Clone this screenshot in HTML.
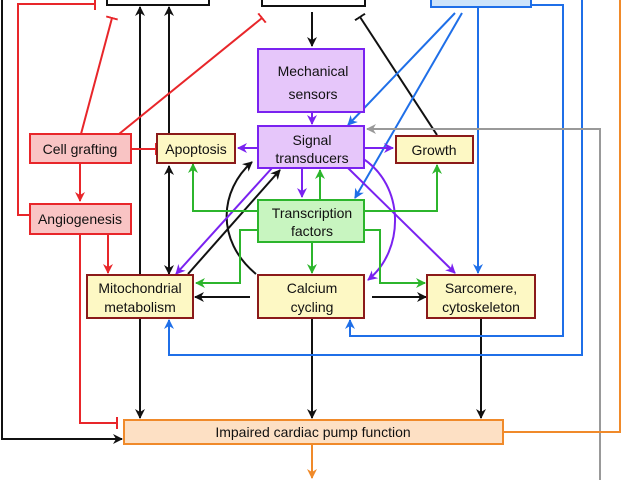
<!DOCTYPE html>
<html><head><meta charset="utf-8"><style>
html,body{margin:0;padding:0;background:#fff;}
svg{display:block;font-family:"Liberation Sans",sans-serif;}
</style></head><body>
<svg width="640" height="480" viewBox="0 0 640 480" xmlns="http://www.w3.org/2000/svg">
<defs>
<marker id="ak" markerWidth="10" markerHeight="10" refX="9" refY="5" orient="auto" markerUnits="userSpaceOnUse"><path d="M0,0 L10,5 L0,10 L3,5z" fill="#111"/></marker>
<marker id="ar" markerWidth="10" markerHeight="10" refX="9" refY="5" orient="auto" markerUnits="userSpaceOnUse"><path d="M0,0 L10,5 L0,10 L3,5z" fill="#e8262a"/></marker>
<marker id="ab" markerWidth="10" markerHeight="10" refX="9" refY="5" orient="auto" markerUnits="userSpaceOnUse"><path d="M0,0 L10,5 L0,10 L3,5z" fill="#1f6fe8"/></marker>
<marker id="ap" markerWidth="10" markerHeight="10" refX="9" refY="5" orient="auto" markerUnits="userSpaceOnUse"><path d="M0,0 L10,5 L0,10 L3,5z" fill="#7a22f0"/></marker>
<marker id="ag" markerWidth="10" markerHeight="10" refX="9" refY="5" orient="auto" markerUnits="userSpaceOnUse"><path d="M0,0 L10,5 L0,10 L3,5z" fill="#2cb52c"/></marker>
<marker id="ay" markerWidth="10" markerHeight="10" refX="9" refY="5" orient="auto" markerUnits="userSpaceOnUse"><path d="M0,0 L10,5 L0,10 L3,5z" fill="#999"/></marker>
<marker id="ao" markerWidth="10" markerHeight="10" refX="9" refY="5" orient="auto" markerUnits="userSpaceOnUse"><path d="M0,0 L10,5 L0,10 L3,5z" fill="#f08a2a"/></marker>
<marker id="tr" markerWidth="2" markerHeight="12" refX="1" refY="6" orient="auto" markerUnits="userSpaceOnUse"><rect x="0" y="0" width="2" height="12" fill="#e8262a"/></marker>
<marker id="tk" markerWidth="2" markerHeight="12" refX="1" refY="6" orient="auto" markerUnits="userSpaceOnUse"><rect x="0" y="0" width="2" height="12" fill="#111"/></marker>
</defs>
<g fill="none" stroke-width="2">
<g stroke="#111">
<polyline points="2,0 2,439 122,439" marker-end="url(#ak)"/>
<line x1="140" y1="318" x2="140" y2="418" marker-end="url(#ak)"/>
<line x1="140" y1="275" x2="140" y2="7" marker-end="url(#ak)"/>
<line x1="169" y1="133" x2="169" y2="7" marker-end="url(#ak)"/>
<line x1="169" y1="200" x2="169" y2="166" marker-end="url(#ak)"/>
<line x1="169" y1="200" x2="169" y2="274" marker-end="url(#ak)"/>
<line x1="312" y1="318" x2="312" y2="418" marker-end="url(#ak)"/>
<line x1="481" y1="318" x2="481" y2="418" marker-end="url(#ak)"/>
<line x1="312" y1="12" x2="312" y2="46" marker-end="url(#ak)"/>
<line x1="437" y1="135" x2="360" y2="17" marker-end="url(#tk)"/>
<line x1="250" y1="297" x2="195" y2="297" marker-end="url(#ak)"/>
<line x1="372" y1="297" x2="426" y2="297" marker-end="url(#ak)"/>
<line x1="188" y1="274" x2="280" y2="170" marker-end="url(#ak)"/>
<path d="M256,274 C215,240 220,190 252,162" marker-end="url(#ak)"/>
</g>
<g stroke="#e8262a">
<polyline points="95,4 18,4 18,215 30,215" marker-start="url(#tr)"/>
<polyline points="80,234 80,423 117,423" marker-end="url(#tr)"/>
<line x1="108" y1="234" x2="108" y2="273" marker-end="url(#ar)"/>
<line x1="80" y1="163" x2="80" y2="201" marker-end="url(#ar)"/>
<line x1="81" y1="134" x2="112" y2="18" marker-end="url(#tr)"/>
<line x1="119" y1="134" x2="262" y2="18" marker-end="url(#tr)"/>
<line x1="131" y1="149" x2="156" y2="149" marker-end="url(#tr)"/>
</g>
<g stroke="#1f6fe8">
<polyline points="531,5 563,5 563,336 350,336 350,320" marker-end="url(#ab)"/>
<polyline points="582,0 582,355 169,355 169,320" marker-end="url(#ab)"/>
<line x1="478" y1="8" x2="478" y2="273" marker-end="url(#ab)"/>
<line x1="455" y1="13" x2="348" y2="125" marker-end="url(#ab)"/>
<line x1="462" y1="13" x2="355" y2="198" marker-end="url(#ab)"/>
</g>
<polyline stroke="#999" points="600,480 600,129 367,129" marker-end="url(#ay)"/>
<polyline stroke="#f08a2a" points="503,432 620,432 620,0"/>
<line stroke="#f08a2a" x1="312" y1="444" x2="312" y2="478" marker-end="url(#ao)"/>
<g stroke="#7a22f0">
<line x1="312" y1="113" x2="312" y2="124" marker-end="url(#ap)"/>
<line x1="257" y1="148" x2="238" y2="148" marker-end="url(#ap)"/>
<line x1="363" y1="148" x2="393" y2="148" marker-end="url(#ap)"/>
<line x1="302" y1="168" x2="302" y2="197" marker-end="url(#ap)"/>
<line x1="272" y1="168" x2="176" y2="274" marker-end="url(#ap)"/>
<line x1="348" y1="168" x2="455" y2="273" marker-end="url(#ap)"/>
<path d="M362,158 C405,185 405,250 368,280" marker-end="url(#ap)"/>
</g>
<g stroke="#2cb52c">
<line x1="320" y1="200" x2="320" y2="170" marker-end="url(#ag)"/>
<polyline points="257,211 193,211 193,164" marker-end="url(#ag)"/>
<polyline points="363,211 437,211 437,165" marker-end="url(#ag)"/>
<polyline points="257,230 240,230 240,283 196,283" marker-end="url(#ag)"/>
<polyline points="363,230 380,230 380,283 425,283" marker-end="url(#ag)"/>
<line x1="312" y1="242" x2="312" y2="273" marker-end="url(#ag)"/>
</g>
</g>
<g stroke-width="2">
<rect x="107" y="-10" width="102" height="15" fill="#fff" stroke="#111"/>
<rect x="262" y="-10" width="103" height="16" fill="#fff" stroke="#111"/>
<rect x="431" y="-10" width="100" height="17" fill="#cde4fb" stroke="#1f6fe8"/>
<rect x="258" y="49" width="106" height="63" fill="#e6c6fa" stroke="#7a22f0"/>
<rect x="258" y="126" width="106" height="42" fill="#e6c6fa" stroke="#7a22f0"/>
<rect x="157" y="134" width="78" height="29" fill="#fdf8c4" stroke="#8b1a1a"/>
<rect x="396" y="136" width="77" height="27" fill="#fdf8c4" stroke="#8b1a1a"/>
<rect x="30" y="134" width="101" height="29" fill="#f9c4c4" stroke="#e8262a"/>
<rect x="30" y="204" width="101" height="30" fill="#f9c4c4" stroke="#e8262a"/>
<rect x="258" y="200" width="106" height="42" fill="#c8f5c0" stroke="#2cb52c"/>
<rect x="87" y="275" width="106" height="43" fill="#fdf8c4" stroke="#8b1a1a"/>
<rect x="258" y="275" width="106" height="43" fill="#fdf8c4" stroke="#8b1a1a"/>
<rect x="427" y="275" width="108" height="43" fill="#fdf8c4" stroke="#8b1a1a"/>
<rect x="124" y="420" width="379" height="24" fill="#fde0c4" stroke="#f08a2a"/>
</g>
<g font-size="14" fill="#111" text-anchor="middle">
<text x="313" y="76">Mechanical</text><text x="313" y="99">sensors</text>
<text x="312" y="145">Signal</text><text x="312" y="163">transducers</text>
<text x="196" y="154">Apoptosis</text>
<text x="434" y="155">Growth</text>
<text x="80" y="154">Cell grafting</text>
<text x="80" y="224">Angiogenesis</text>
<text x="312" y="218">Transcription</text><text x="312" y="236">factors</text>
<text x="140" y="293">Mitochondrial</text><text x="140" y="312">metabolism</text>
<text x="312" y="293">Calcium</text><text x="312" y="312">cycling</text>
<text x="481" y="293">Sarcomere,</text><text x="481" y="312">cytoskeleton</text>
<text x="313" y="437">Impaired cardiac pump function</text>
</g>
</svg>
</body></html>
